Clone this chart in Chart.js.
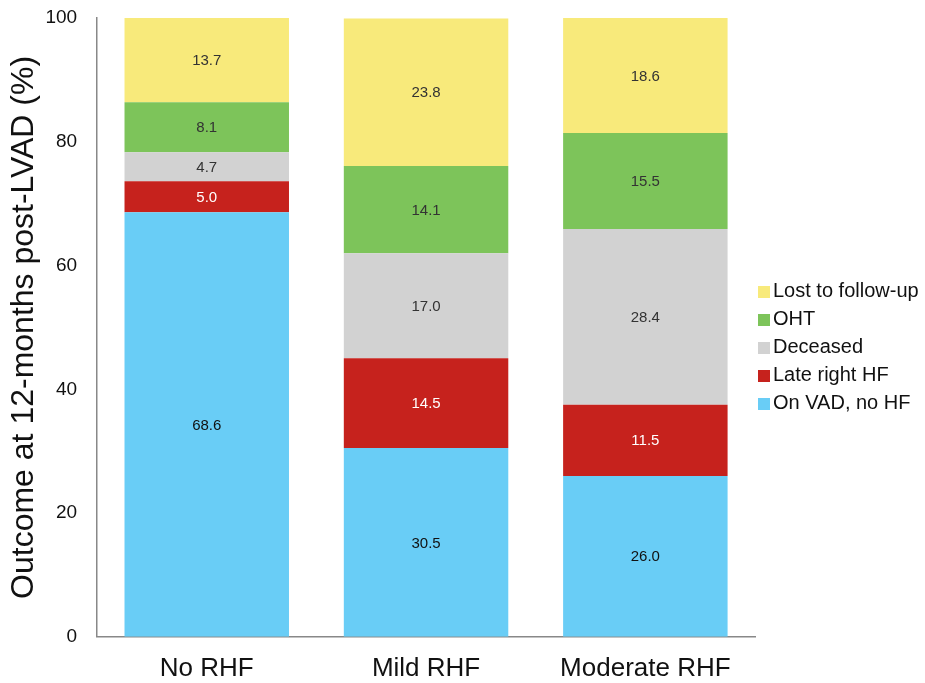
<!DOCTYPE html>
<html>
<head>
<meta charset="utf-8">
<script src="https://cdn.jsdelivr.net/npm/chart.js@4"></script>
<style>
  html, body { margin: 0; padding: 0; background: #fff; }
  #wrap { position: relative; width: 925px; height: 683px; }
  #legend { position: absolute; left: 758px; top: 276px; font: 20px 'Liberation Sans', Arial, sans-serif; color: #111; }
  #legend div { height: 28px; line-height: 28px; white-space: nowrap; }
  #legend span { display: inline-block; width: 12px; height: 12px; margin-right: 3px; vertical-align: -1px; }
</style>
</head>
<body>
<div id="wrap"><canvas id="chart"></canvas><div id="legend"></div></div>
<script>
// categories and series (percent of patients)
const categories = ['No RHF', 'Mild RHF', 'Moderate RHF'];
const onVad    = [68.6, 30.5, 26.0];
const lateRhf  = [5.0, 14.5, 11.5];
const deceased = [4.7, 17.0, 28.4];
const oht      = [8.1, 14.1, 15.5];
const lost     = [13.7, 23.8, 18.6];
const yTicks   = [0, 20, 40, 60, 80, 100];

const FONT = "'Liberation Sans', Arial, Helvetica, sans-serif";

// labels written inside each segment
const segmentLabels = {
    id: 'segmentLabels',
    afterDatasetsDraw(chart) {
        const ctx = chart.ctx;
        ctx.save();
        ctx.font = '15px ' + FONT;
        ctx.textAlign = 'center';
        ctx.textBaseline = 'middle';
        chart.data.datasets.forEach((ds, i) => {
            const meta = chart.getDatasetMeta(i);
            meta.data.forEach((bar, j) => {
                ctx.fillStyle = ds.labelColor;
                ctx.fillText(ds.data[j].toFixed(1), bar.x, (bar.y + bar.base) / 2 + 1);
            });
        });
        ctx.restore();
    }
};

const chart = new Chart(document.getElementById('chart'), {
    type: 'bar',
    data: {
        labels: categories,
        datasets: [
            { label: 'On VAD, no HF', data: onVad, backgroundColor: '#69cdf6', labelColor: '#111' },
            { label: 'Late right HF', data: lateRhf, backgroundColor: '#c6221d', labelColor: '#ffffff' },
            { label: 'Deceased', data: deceased, backgroundColor: '#d2d2d2', labelColor: '#333' },
            { label: 'OHT', data: oht, backgroundColor: '#7dc45a', labelColor: '#333' },
            { label: 'Lost to follow-up', data: lost, backgroundColor: '#f8ea7b', labelColor: '#333' }
        ]
    },
    options: {
        responsive: true,
        maintainAspectRatio: false,
        animation: false,
        layout: { padding: { top: 18, right: 170, bottom: -17, left: 5 } },
        datasets: { bar: { categoryPercentage: 0.75, barPercentage: 1.0 } },
        plugins: {
            tooltip: { enabled: false },
            legend: { display: false }
        },
        scales: {
            x: {
                stacked: true,
                grid: { display: false, drawTicks: false },
                border: { color: '#888', width: 1.5 },
                ticks: { color: '#111', font: { size: 26, family: FONT }, padding: 16 }
            },
            y: {
                stacked: true,
                min: 0,
                max: 100,
                afterBuildTicks: axis => { axis.ticks = yTicks.map(v => ({ value: v })); },
                grid: { display: false, drawTicks: true, tickLength: 18 },
                border: { color: '#888', width: 1.5 },
                ticks: { color: '#111', font: { size: 19, family: FONT }, padding: 2 },
                title: {
                    display: true,
                    text: 'Outcome at 12-months post-LVAD (%)',
                    color: '#111',
                    font: { size: 32, family: FONT },
                    padding: { top: 0, bottom: 0 }
                }
            }
        }
    },
    plugins: [segmentLabels]
});

// legend, top entry first
const legend = document.getElementById('legend');
chart.data.datasets.slice().reverse().forEach(ds => {
    const row = document.createElement('div');
    row.innerHTML = '<span style="background:' + ds.backgroundColor + '"></span>' + ds.label;
    legend.appendChild(row);
});
</script>
</body>
</html>
